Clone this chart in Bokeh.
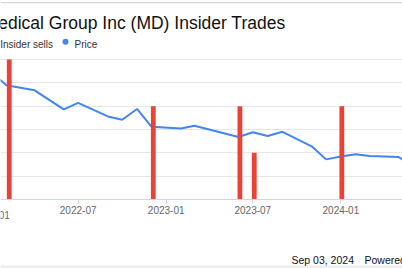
import pandas as pd
from bokeh.plotting import figure
from bokeh.models import Range1d, FixedTicker, DatetimeTickFormatter
from bokeh.core.properties import value
from bokeh.embed import file_html
from bokeh.resources import INLINE

# ---- data ----
price_dates = ["2022-01-01", "2022-02-01", "2022-04-01", "2022-06-01", "2022-07-01",
               "2022-09-01", "2022-10-01", "2022-11-01", "2022-12-01", "2023-02-01",
               "2023-03-01", "2023-06-01", "2023-07-01", "2023-08-01", "2023-09-01",
               "2023-11-01", "2023-12-01", "2024-01-01", "2024-02-01", "2024-03-01",
               "2024-05-01", "2024-06-01"]
price_values = [27.2, 24.5, 23.4, 19.3, 20.7, 17.8, 17.1, 19.4, 15.6, 15.2,
                15.8, 13.4, 14.4, 13.6, 14.5, 11.4, 8.6, 9.2, 9.7, 9.3,
                9.1, 7.1]
sell_dates = ["2022-02-07", "2022-12-05", "2023-06-04", "2023-07-04", "2024-01-03"]
sell_values = [3, 2, 2, 1, 2]
tick_dates = ["2022-07-01", "2023-01-01", "2023-07-01", "2024-01-01"]
first_tick = "2022-01-01"
price_grid = [0, 5, 10, 15, 20, 25, 30]

title_text = "Pediatrix Medical Group Inc (MD) Insider Trades"
legend_names = ["Insider sells", "Price"]
footer_date = "Sep 03, 2024"
footer_src = "Powered by GuruFocus.com"

FONT = "Liberation Sans"
BLUE = "#4285f4"
RED = "#ea4335"
W, H = 402, 268
PLOT_TOP, PLOT_BOTTOM = 59.0, 199.0   # canvas rows of grid top / axis


def ms(d):
    return pd.Timestamp(d).value / 1e6


DAY = 86400000.0
anchor = ms("2023-01-01")
x_start = anchor - 346.3 * DAY
x_end = anchor + 493.8 * DAY

# map price 0..30 onto rows 199..59 while the frame spans the whole canvas
pp = (PLOT_BOTTOM - PLOT_TOP) / price_grid[-1]
y_lo = -(H - PLOT_BOTTOM) / pp
y_hi = PLOT_BOTTOM / pp
sp = (PLOT_BOTTOM - PLOT_TOP) / max(sell_values)
s_lo = -(H - PLOT_BOTTOM) / sp
s_hi = PLOT_BOTTOM / sp

p = figure(width=W, height=H, x_axis_type="datetime",
           x_range=Range1d(x_start, x_end), y_range=Range1d(y_lo, y_hi),
           output_backend="svg", toolbar_location=None,
           min_border_left=0, min_border_right=0,
           min_border_top=0, min_border_bottom=0)
p.outline_line_color = None
p.background_fill_color = "white"
p.border_fill_color = "white"
p.yaxis.visible = False
p.xgrid.visible = False
p.ygrid.ticker = FixedTicker(ticks=price_grid)
p.ygrid.grid_line_color = "#e6e6e6"
p.ygrid.grid_line_width = 1

p.extra_y_ranges = {"sells": Range1d(s_lo, s_hi), "px": Range1d(H, 0)}
p.extra_x_ranges = {"px": Range1d(0, W)}

xa = p.xaxis[0]
xa.fixed_location = 0
xa.ticker = FixedTicker(ticks=[ms(d) for d in tick_dates])
fmt = "%Y-%m"
xa.formatter = DatetimeTickFormatter(years=fmt, months=fmt, days=fmt, hours=fmt,
                                     minutes=fmt, seconds=fmt, milliseconds=fmt,
                                     microseconds=fmt, hourmin=fmt, minsec=fmt)
xa.axis_line_color = "#ccd6eb"
xa.major_tick_line_color = "#ccd6eb"
xa.major_tick_out = 4
xa.major_tick_in = 0
xa.minor_tick_line_color = None
xa.major_label_standoff = 2
xa.major_label_text_font = FONT
xa.major_label_text_font_size = "10px"
xa.major_label_text_color = "#666666"

# the cut-off first tick label at the left edge
p.text(x=[pd.Timestamp(first_tick)], y=[214.5], text=[first_tick[:7]],
       y_range_name="px", text_font=value(FONT), text_font_size="10px",
       text_color="#666666", text_align="center", text_baseline="alphabetic")

p.line(pd.to_datetime(price_dates), price_values, line_color=BLUE, line_width=2)
p.vbar(x=pd.to_datetime(sell_dates), top=sell_values, bottom=0, width=10 * DAY,
       fill_color=RED, line_color=None, y_range_name="sells")

# decorations in canvas-pixel coordinates
p.quad(left=[0, 0], right=[W, W], top=[1.5, 265], bottom=[2.8, H],
       fill_color=["#d8d8d8", "#eeeeee"], line_color=None,
       x_range_name="px", y_range_name="px")


def txt(text, x, y, size, color, align="left"):
    p.text(x=[x], y=[y], text=[text], x_range_name="px", y_range_name="px",
           text_font=value(FONT), text_font_size=size, text_color=color,
           text_align=align, text_baseline="alphabetic")


txt(title_text, 285, 22.7, "17.5px", "#111111", align="right")
txt(legend_names[0], 52.5, 44, "10px", "#333333", align="right")
p.scatter(x=[65], y=[41.2], size=6, fill_color=BLUE, line_color=None,
          x_range_name="px", y_range_name="px")
txt(legend_names[1], 74, 44, "10px", "#333333")
txt(footer_date, 291, 259, "10.5px", "#111111")
txt(footer_src, 364, 259, "10.5px", "#111111")

open("out.html", "w").write(file_html(p, INLINE))
